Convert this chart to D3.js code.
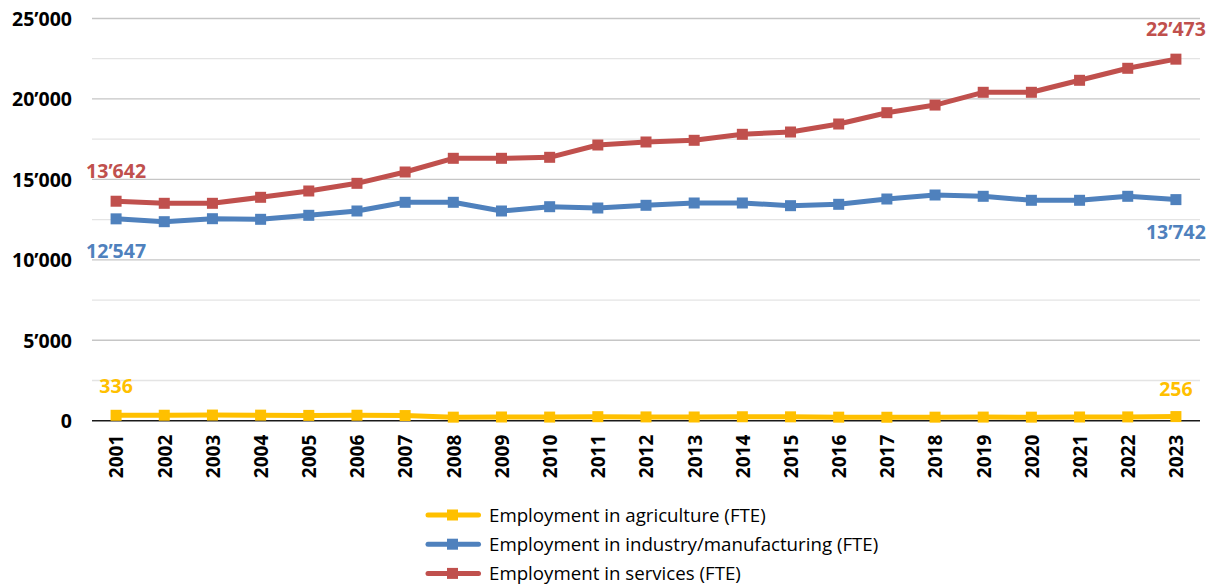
<!DOCTYPE html>
<html><head><meta charset="utf-8">
<script src="https://cdn.jsdelivr.net/npm/d3@7"></script>
<style>body{margin:0;background:#fff}svg{display:block}</style>
</head><body><svg id="c" width="1214" height="585"></svg>
<script>
const years = ["2001","2002","2003","2004","2005","2006","2007","2008","2009","2010","2011","2012","2013","2014","2015","2016","2017","2018","2019","2020","2021","2022","2023"];
const agriculture = [336,340,350,345,330,340,320,220,230,225,250,235,230,245,240,220,215,220,225,220,230,235,256];
const industry = [12547,12370,12556,12518,12767,13035,13575,13575,13035,13302,13220,13389,13532,13532,13365,13451,13780,14029,13948,13700,13700,13948,13742];
const services = [13642,13513,13513,13886,14278,14755,15459,16310,16310,16372,17137,17324,17429,17802,17945,18442,19145,19620,20413,20413,21159,21905,22473];
const seriesNames = ["Employment in agriculture (FTE)","Employment in industry/manufacturing (FTE)","Employment in services (FTE)"];
const seriesColors = ["#FFC000","#4F81BD","#C0504D"];
const yTicks = [0,5000,10000,15000,20000,25000];
const yMinor = [2500,7500,12500,17500,22500];

const svg = d3.select("#c");
const x = d3.scalePoint().domain(years).range([92,1200]).padding(0.5);
const y = d3.scaleLinear().domain([0,25000]).range([420.7,18.5]);
const fmt = v => d3.format(",")(v).replace(/,/g,"\u2019");
const font = "'Open Sans', sans-serif";

// gridlines
svg.append("g").selectAll("line").data(yMinor).join("line")
  .attr("x1",92).attr("x2",1200).attr("y1",d=>y(d)).attr("y2",d=>y(d))
  .attr("stroke","#e4e4e4").attr("stroke-width",1.3);
svg.append("g").selectAll("line").data(yTicks.filter(d=>d>0)).join("line")
  .attr("x1",92).attr("x2",1200).attr("y1",d=>y(d)).attr("y2",d=>y(d))
  .attr("stroke","#c6c6c6").attr("stroke-width",1.3);

// y axis labels
const yAxis = d3.axisLeft(y).tickValues(yTicks).tickFormat(fmt).tickSize(0).tickPadding(0);
const ya = svg.append("g").attr("transform","translate(72,0)").call(yAxis);
ya.select(".domain").remove();
ya.selectAll("text").attr("font-family",font).attr("font-weight","bold").attr("font-size",19.5).attr("fill","#000").attr("dy","0.36em");

// x axis
const xAxis = d3.axisBottom(x).tickSize(0).tickPadding(0);
const xa = svg.append("g").attr("transform","translate(0,"+y(0)+")").call(xAxis);
xa.select(".domain").attr("stroke","#1a1a1a").attr("stroke-width",1.5).attr("d","M92,0H1200");
xa.selectAll("text").attr("font-family",font).attr("font-weight","bold").attr("font-size",19).attr("fill","#000")
  .attr("transform","rotate(-90)").attr("text-anchor","end").attr("x",-14).attr("y",0).attr("dy","0.36em");

const allSeries = [agriculture, industry, services];
const line = d3.line().x((d,i)=>x(years[i])).y(d=>y(d));
allSeries.forEach((s,k)=>{
  svg.append("path").datum(s).attr("d",line).attr("fill","none")
    .attr("stroke",seriesColors[k]).attr("stroke-width",5).attr("stroke-linejoin","round");
  svg.append("g").selectAll("rect").data(s).join("rect")
    .attr("x",(d,i)=>x(years[i])-5.5).attr("y",d=>y(d)-5.5).attr("width",11).attr("height",11)
    .attr("fill",seriesColors[k]);
});

// data labels
const labels = [
  {s:0, i:0, dy:-29},
  {s:0, i:22, dy:-28},
  {s:1, i:0, dy:32},
  {s:1, i:22, dy:32},
  {s:2, i:0, dy:-30},
  {s:2, i:22, dy:-30}
];
svg.append("g").selectAll("text").data(labels).join("text")
  .attr("x",d=>x(years[d.i])).attr("y",d=>y(allSeries[d.s][d.i])+d.dy)
  .attr("dy","0.36em").attr("text-anchor","middle")
  .attr("font-family",font).attr("font-weight","bold").attr("font-size",19.5)
  .attr("fill",d=>seriesColors[d.s]).text(d=>fmt(allSeries[d.s][d.i]));

// legend
const lg = svg.append("g").selectAll("g").data(seriesNames).join("g")
  .attr("transform",(d,i)=>"translate(0,"+(515+i*29.2)+")");
lg.append("line").attr("x1",428).attr("x2",478.5).attr("stroke",(d,i)=>seriesColors[i]).attr("stroke-width",5).attr("stroke-linecap","round");
lg.append("rect").attr("x",447).attr("y",-5.5).attr("width",11).attr("height",11).attr("fill",(d,i)=>seriesColors[i]);
lg.append("text").attr("x",489).attr("dy","0.36em").attr("font-family",font).attr("font-size",18.7).attr("fill","#000").text(d=>d);
</script></body></html>
